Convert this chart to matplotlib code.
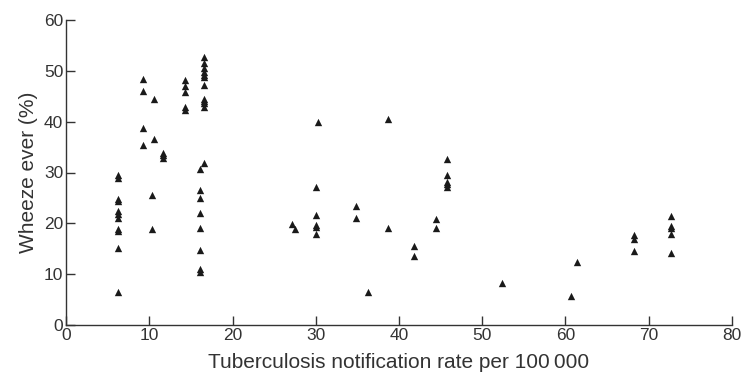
import matplotlib
matplotlib.use("Agg")
import matplotlib.pyplot as plt

plt.rcParams['font.family'] = ['Liberation Sans', 'DejaVu Sans']

# Data: tuberculosis notification rate (x) vs wheeze ever % (y)
tb_rate = [
    6.2, 6.2, 6.2, 6.2, 6.2, 6.2, 6.2, 6.2, 6.2, 6.2, 6.2,
    9.3, 9.3, 9.3, 9.3,
    10.6, 10.6, 10.3, 10.3,
    11.7, 11.7, 11.7,
    14.3, 14.3, 14.3, 14.3, 14.3,
    16.6, 16.6, 16.6, 16.6, 16.6, 16.6, 16.6, 16.6, 16.6, 16.6, 16.6, 16.6,
    16.1, 16.1, 16.1, 16.1, 16.1, 16.1, 16.1, 16.1,
    27.2, 27.5,
    30.0, 30.0, 30.0, 30.0, 30.0, 30.3,
    34.8, 34.8,
    36.3,
    38.7, 38.7,
    41.8, 41.8,
    44.4, 44.4,
    45.8, 45.8, 45.8, 45.8, 45.8,
    52.4,
    60.7,
    61.4,
    68.2, 68.2, 68.2,
    72.7, 72.7, 72.7, 72.7, 72.7,
]
wheeze = [
    29.5, 29.0, 24.8, 24.3, 22.5, 21.8, 21.0, 18.8, 18.4, 15.2, 6.5,
    48.3, 46.1, 38.7, 35.5,
    44.5, 36.5, 25.6, 18.9,
    33.9, 33.4, 32.9,
    48.1, 47.0, 45.9, 42.8, 42.3,
    52.7, 51.6, 50.5, 49.8, 49.2, 48.7, 47.2, 44.5, 44.1, 43.7, 42.9, 31.8,
    30.6, 26.6, 25.0, 22.0, 19.1, 14.8, 11.0, 10.5,
    19.8, 18.8,
    27.2, 21.6, 19.6, 19.2, 18.0, 39.9,
    23.5, 21.0,
    6.4,
    40.6, 19.0,
    15.5, 13.6,
    20.9, 19.1,
    32.6, 29.6, 28.1, 27.7, 27.1,
    8.2,
    5.8,
    12.3,
    17.8, 17.0, 14.6,
    21.4, 19.4, 19.0, 18.0, 14.1,
]

x_ticks = [0, 10, 20, 30, 40, 50, 60, 70, 80]
y_ticks = [0, 10, 20, 30, 40, 50, 60]

fig = plt.figure(figsize=(7.42, 3.75), dpi=100)
ax = fig.add_axes([0.089, 0.1333, 0.8975, 0.8134])
ax.scatter(tb_rate, wheeze, marker='^', s=28, color='#1a1a1a', linewidths=0, zorder=3)

ax.set_xlim(0, 80)
ax.set_ylim(0, 60)
ax.set_xticks(x_ticks)
ax.set_yticks(y_ticks)
ax.spines['top'].set_visible(False)
ax.spines['right'].set_visible(False)
for s in ['left', 'bottom']:
    ax.spines[s].set_color('#333333')
    ax.spines[s].set_linewidth(1.0)
ax.tick_params(direction='in', length=6.5, width=1.0, color='#333333', labelsize=12.5, labelcolor='#333333', pad=2)
ax.set_xlabel('Tuberculosis notification rate per 100\u2009000', fontsize=15, color='#333333', labelpad=7)
ax.set_ylabel('Wheeze ever (%)', fontsize=15, color='#333333', labelpad=4)

fig.savefig('out.png', dpi=100)
